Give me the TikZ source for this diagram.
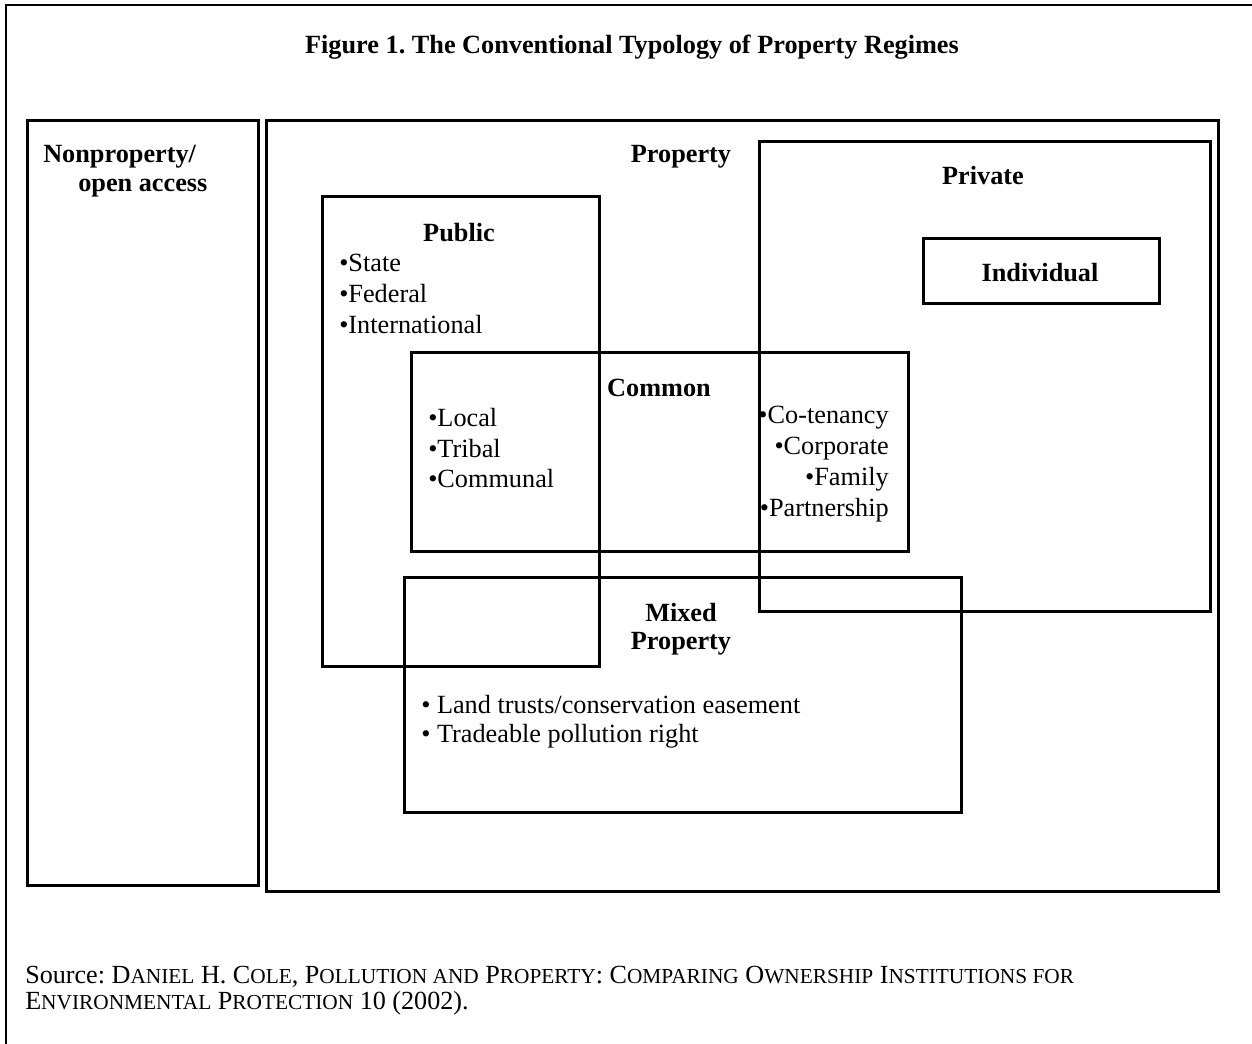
\documentclass[tikz,border=0pt]{standalone}
\usepackage{fontspec}
\setmainfont{Liberation Serif}
\frenchspacing
\newcommand\mysc[1]{{\fontsize{16}{18}\selectfont #1}}
\begin{document}
\begin{tikzpicture}[x=0.75pt,y=-0.75pt,
  box/.style={draw,line width=2.2pt,rectangle,inner sep=0pt,anchor=north west},
  lab/.style={font=\fontsize{19.7}{23}\selectfont\bfseries,inner sep=0pt},
  item/.style={font=\fontsize{19.7}{23}\selectfont,inner sep=0pt},
  src/.style={font=\fontsize{19.6}{23}\selectfont,inner sep=0pt,anchor=west}]
\useasboundingbox (0,0) rectangle (1252,1044);
\coordinate (fa) at (6,1044);
\coordinate (fb) at (6,5);
\coordinate (fc) at (1252,5);
\draw[line width=2.2pt] (fa) -- (fb) -- (fc);

\node[lab] (title) at (632,47) {Figure 1. The Conventional Typology of Property Regimes};

\node[box,minimum width=231*0.75pt,minimum height=765*0.75pt] (nonprop) at (26,119) {};
\node[box,minimum width=952*0.75pt,minimum height=771*0.75pt] (prop) at (265,119) {};
\node[box,minimum width=451*0.75pt,minimum height=470*0.75pt] (priv) at (758,140) {};
\node[box,minimum width=236*0.75pt,minimum height=65*0.75pt] (indiv) at (922,237) {};
\node[box,minimum width=277*0.75pt,minimum height=470*0.75pt] (pub) at (321,195) {};
\node[box,minimum width=497*0.75pt,minimum height=199*0.75pt] (comm) at (410,351) {};
\node[box,minimum width=557*0.75pt,minimum height=235*0.75pt] (mixed) at (403,576) {};

\node[lab,anchor=west] (np1) at (43,157) {Nonproperty/};
\node[lab,anchor=west] (np2) at (78,188) {open access};
\node[lab] (propl) at (681,157) {Property};
\node[lab] (privl) at (983,176) {Private};
\node[lab] (indl) at (1040,273) {Individual};
\node[lab] (publ) at (459,233) {Public};
\node[item,anchor=west] (p1) at (339,263) {•State};
\node[item,anchor=west] (p2) at (339,294) {•Federal};
\node[item,anchor=west] (p3) at (339,325) {•International};
\node[lab] (comml) at (659,388) {Common};
\node[item,anchor=west] (c1) at (428,418) {•Local};
\node[item,anchor=west] (c2) at (428,449) {•Tribal};
\node[item,anchor=west] (c3) at (428,479) {•Communal};
\node[item,anchor=east] (r1) at (889,418) {•Co-tenancy};
\node[item,anchor=east] (r2) at (889,449) {•Corporate};
\node[item,anchor=east] (r3) at (889,479) {•Family};
\node[item,anchor=east] (r4) at (889,510) {•Partnership};
\node[lab] (mx1) at (681,613) {Mixed};
\node[lab] (mx2) at (681,644) {Property};
\node[item,anchor=west] (m1) at (421,705) {• Land trusts/conservation easement};
\node[item,anchor=west] (m2) at (421,736) {• Tradeable pollution right};
\node[src] (s1) at (25,977) {Source: D\mysc{ANIEL} H. C\mysc{OLE}, P\mysc{OLLUTION AND} P\mysc{ROPERTY}: C\mysc{OMPARING} O\mysc{WNERSHIP} I\mysc{NSTITUTIONS FOR}};
\node[src] (s2) at (25,1003) {E\mysc{NVIRONMENTAL} P\mysc{ROTECTION} 10 (2002).};
\end{tikzpicture}
\end{document}
